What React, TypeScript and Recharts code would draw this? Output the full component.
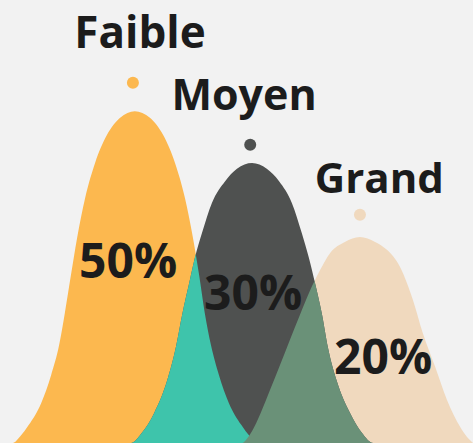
import { useEffect, useState } from 'react';
import { AreaChart, Area, XAxis, YAxis, ReferenceDot } from 'recharts';

// Each curve: [position on the size axis (0-100), share height (0-100)]
const faible: [number, number][] = [
  [1.2, 0], [2.7, 0], [4.2, 1.4], [6.1, 4.1], [8.7, 9.0], [10.8, 15.3], [12.5, 22.1], [13.7, 29.3],
  [15.0, 37.9], [16.3, 46.3], [18.0, 55.3], [20.1, 63.2], [22.6, 69.5], [25.4, 73.4], [28.5, 74.9],
  [31.7, 73.4], [34.5, 69.5], [37.0, 63.2], [39.1, 55.3], [40.8, 46.3], [42.1, 37.9], [43.3, 29.3],
  [44.6, 22.1], [46.3, 15.3], [48.4, 9.0], [51.0, 4.1], [52.9, 1.4], [54.3, 0], [57.1, 0],
];

const moyen: [number, number][] = [
  [25.2, 0], [27.7, 0], [30.0, 2.3], [32.6, 6.8], [35.3, 14.0], [37.2, 21.7], [38.5, 28.9],
  [40.0, 36.1], [41.2, 41.8], [42.7, 47.4], [44.8, 54.2], [47.6, 59.1], [50.1, 61.9], [53.3, 63.2],
  [56.4, 61.9], [59.0, 59.1], [61.7, 54.2], [63.8, 47.4], [65.3, 41.8], [66.6, 36.1], [68.1, 28.9],
  [69.3, 21.7], [71.2, 14.0], [74.0, 6.8], [76.5, 2.3], [78.9, 0], [81.4, 0],
];

const grand: [number, number][] = [
  [48.6, 0], [51.2, 0], [52.0, 0.7], [53.3, 2.7], [55.0, 6.5], [57.1, 12.0], [59.2, 17.6],
  [61.3, 23.3], [63.4, 28.9], [65.5, 34.3], [67.7, 39.1], [69.8, 42.9], [72.9, 45.4], [76.1, 46.5],
  [79.3, 45.4], [81.8, 43.6], [84.6, 39.7], [87.3, 32.3], [89.4, 24.8], [92.0, 17.2], [94.5, 9.7],
  [97.3, 3.6], [98.7, 1.4], [100, 0],
];

const names = ['Faible', 'Moyen', 'Grand'];
const shares = ['50%', '30%', '20%'];

const rows = [
  ...faible.map(([x, v]) => ({ x, faible: v })),
  ...moyen.map(([x, v]) => ({ x, moyen: v })),
  ...grand.map(([x, v]) => ({ x, grand: v })),
].sort((a, b) => a.x - b.x);

const COLORS = {
  bg: '#f2f2f2',
  faible: '#fcb84f',
  moyen: '#4f5150',
  grand: '#f0d9be',
  faibleMoyen: '#3ec4ab',
  moyenGrand: '#6a9178',
  text: '#1c1c1c',
};

const FONT = '"Open Sans", "Noto Sans", sans-serif';

// draws a text centred on the reference point, y is the baseline
const textLabel = (text: string, size: number) => (props: any) => {
  const vb = props.viewBox || {};
  const cx = (vb.x ?? 0) + (vb.width ?? 0) / 2;
  const cy = (vb.y ?? 0) + (vb.height ?? 0) / 2;
  return (
    <text x={cx} y={cy} textAnchor="middle" fontSize={size} fontWeight={700} fill={COLORS.text} fontFamily={FONT}>
      {text}
    </text>
  );
};

// clip paths copied from the rendered areas, so the overlaps get their own colour
function OverlapClips() {
  const [paths, setPaths] = useState<{ faible?: string; grand?: string }>({});
  useEffect(() => {
    let n = 0;
    const read = () => {
      const f = document.querySelector('.area-faible .recharts-area-area')?.getAttribute('d') ?? undefined;
      const g = document.querySelector('.area-grand .recharts-area-area')?.getAttribute('d') ?? undefined;
      setPaths(prev => (prev.faible === f && prev.grand === g ? prev : { faible: f, grand: g }));
    };
    read();
    const id = setInterval(() => {
      read();
      if (++n > 80) clearInterval(id);
    }, 25);
    return () => clearInterval(id);
  }, []);
  return (
    <svg width={0} height={0} style={{ position: 'absolute', left: 0, top: 0 }}>
      <defs>
        <clipPath id="clip-faible">{paths.faible && <path d={paths.faible} />}</clipPath>
        <clipPath id="clip-grand">{paths.grand && <path d={paths.grand} />}</clipPath>
      </defs>
    </svg>
  );
}

const areaCommon = {
  type: 'monotone' as const,
  stroke: 'none',
  fillOpacity: 1,
  connectNulls: true,
  activeDot: false,
  dot: false,
  isAnimationActive: false,
};

export default function App() {
  return (
    <div style={{ position: 'fixed', left: 0, top: 0, width: 473, height: 443, background: COLORS.bg, overflow: 'hidden' }}>
      <style>{`
        body { margin: 0; background: ${COLORS.bg}; }
        .area-fm { clip-path: url(#clip-faible); }
        .area-mg { clip-path: url(#clip-grand); }
      `}</style>
      <OverlapClips />
      <AreaChart width={473} height={443} data={rows} margin={{ top: 0, right: 0, bottom: 0, left: 0 }}>
        <XAxis dataKey="x" type="number" domain={[0, 100]} hide />
        <YAxis type="number" domain={[0, 100]} hide />
        <Area {...areaCommon} className="area-faible" dataKey="faible" fill={COLORS.faible} />
        <Area {...areaCommon} className="area-grand" dataKey="grand" fill={COLORS.grand} />
        <Area {...areaCommon} className="area-moyen" dataKey="moyen" fill={COLORS.moyen} />
        <Area {...areaCommon} className="area-fm" name="faible-moyen" dataKey="moyen" fill={COLORS.faibleMoyen} />
        <Area {...areaCommon} className="area-mg" name="moyen-grand" dataKey="moyen" fill={COLORS.moyenGrand} />

        <ReferenceDot x={28.1} y={81.3} r={6} fill={COLORS.faible} stroke="none" />
        <ReferenceDot x={52.9} y={67.3} r={6} fill={COLORS.moyen} stroke="none" />
        <ReferenceDot x={76.1} y={51.5} r={6} fill={COLORS.grand} stroke="none" />

        <ReferenceDot x={29.6} y={89.2} r={0} stroke="none" label={textLabel(names[0], 44)} />
        <ReferenceDot x={51.6} y={75.2} r={0} stroke="none" label={textLabel(names[1], 43)} />
        <ReferenceDot x={80.2} y={56.4} r={0} stroke="none" label={textLabel(names[2], 42)} />

        <ReferenceDot x={27.1} y={37.2} r={0} stroke="none" label={textLabel(shares[0], 48)} />
        <ReferenceDot x={53.5} y={30.0} r={0} stroke="none" label={textLabel(shares[1], 48)} />
        <ReferenceDot x={81.0} y={15.6} r={0} stroke="none" label={textLabel(shares[2], 48)} />
      </AreaChart>
    </div>
  );
}
